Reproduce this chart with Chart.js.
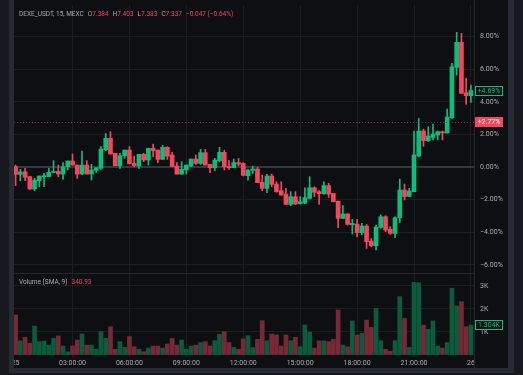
<!DOCTYPE html>
<html>
<head>
<meta charset="utf-8">
<script src="https://cdn.jsdelivr.net/npm/chart.js@4.4.1/dist/chart.umd.min.js"></script>
<style>
  html, body { margin: 0; padding: 0; background: #0e0f13; }
  #wrap { width: 523px; height: 375px; }
</style>
</head>
<body>
<div id="wrap"><canvas id="chart" width="523" height="375"></canvas></div>
<script>
// 15 min candles, 25th 00:00 -> 26th 00:00, in % change
const timeTicks = ['25', '03:00:00', '06:00:00', '09:00:00', '12:00:00', '15:00:00', '18:00:00', '21:00:00', '26'];
const priceTicks = [-6, -4, -2, 0, 2, 4, 6, 8];
const volumeTicks = [0, 1, 2, 3];

const openPct = [
  0.02, -0.45, -0.29, -0.59, -1.35, -0.84, -0.59, -0.59, -0.33, -0.27,
  -0.43, 0.02, 0.37, 0.12, -0.43, 0.12, -0.43, -0.20, -0.08, 1.06,
  1.76, 0.84, 0.08, 0.69, 1.04, 0.22, 0.06, 0.78, 0.43, 1.15,
  1.04, 0.47, 1.21, 0.74, 0.06, -0.43, -0.18, 0.06, 0.49, 0.22,
  0.88, 0.16, -0.04, 0.39, 0.90, 0.02, -0.04, 0.27, 0.22, -0.53,
  -0.20, -0.12, -0.94, -1.31, -0.55, -1.04, -1.45, -1.66, -2.29, -1.82,
  -2.25, -2.21, -1.92, -1.27, -1.51, -1.64, -1.14, -1.62, -2.09, -3.15,
  -2.88, -3.54, -3.50, -4.03, -3.62, -4.54, -4.83, -3.70, -3.05, -3.82,
  -4.07, -3.11, -1.41, -1.80, -1.51, 0.67, 2.21, 1.62, 1.82, 1.96,
  2.17, 2.09, 3.02, 6.11, 7.65, 4.56, 4.38
];
const highPct = [
  0.12, -0.14, -0.08, -0.57, -0.69, -0.55, -0.39, -0.08, 0.39, 0.12,
  0.27, 0.37, 0.80, 0.12, 0.98, 0.39, 0.16, -0.04, 1.25, 2.06,
  2.17, 0.84, 0.84, 1.04, 1.25, 0.67, 0.78, 0.84, 1.15, 1.41,
  1.04, 1.33, 1.25, 0.90, 0.27, 0.33, 0.12, 0.49, 0.74, 1.08,
  1.08, 0.16, 0.53, 1.21, 1.04, 0.39, 0.49, 0.53, 0.27, -0.15,
  0.06, -0.02, -0.49, -0.45, -0.43, -0.90, -0.90, -1.31, -1.51, -1.51,
  -1.82, -1.27, -0.59, -1.21, -1.45, -0.90, -1.00, -1.62, -2.09, -2.37,
  -2.86, -3.21, -3.21, -3.46, -3.52, -4.38, -3.56, -2.94, -2.99, -3.66,
  -3.05, -0.74, -1.04, -1.31, 2.20, 2.98, 2.33, 2.47, 2.64, 2.21,
  2.21, 3.56, 6.36, 8.26, 8.20, 5.44, 5.03
];
const lowPct = [
  -1.14, -0.84, -0.84, -1.37, -1.45, -1.21, -1.21, -0.59, -0.35, -0.59,
  -0.76, -0.18, 0.12, -0.69, -0.45, -0.43, -0.80, -0.33, -0.14, 1.00,
  0.80, 0.08, -0.08, 0.53, 0.20, 0.02, -0.08, 0.33, 0.12, 0.63,
  0.27, 0.47, 0.47, 0.02, -0.43, -0.45, -0.43, 0.02, 0.16, 0.16,
  0.12, -0.35, -0.22, 0.33, -0.18, -0.14, -0.04, 0.08, -0.55, -0.80,
  -0.39, -0.96, -1.45, -1.57, -1.21, -1.55, -1.72, -2.29, -2.37, -2.30,
  -2.27, -2.25, -1.96, -1.82, -2.29, -1.66, -1.86, -2.13, -3.72, -3.15,
  -3.56, -4.11, -4.29, -4.17, -4.99, -4.89, -5.09, -3.76, -3.97, -4.13,
  -4.34, -3.40, -2.02, -1.82, -1.51, 0.63, 1.27, 1.57, 1.66, 1.66,
  1.66, 2.09, 2.98, 5.64, 4.52, 3.85, 3.97
];
const closePct = [
  -0.45, -0.29, -0.63, -1.35, -0.80, -0.55, -0.53, -0.33, -0.27, -0.43,
  0.02, 0.37, 0.12, -0.43, 0.12, -0.43, -0.18, -0.04, 1.10, 1.76,
  0.80, 0.08, 0.69, 1.04, 0.20, 0.08, 0.78, 0.43, 1.15, 1.00,
  0.47, 1.21, 0.67, 0.02, -0.43, -0.14, 0.12, 0.49, 0.22, 0.88,
  0.12, -0.04, 0.43, 0.90, 0.02, -0.04, 0.27, 0.18, -0.51, -0.18,
  -0.12, -0.96, -1.31, -0.55, -1.06, -1.51, -1.72, -2.29, -1.82, -2.27,
  -2.13, -1.88, -1.27, -1.55, -1.64, -1.14, -1.66, -2.13, -3.15, -2.88,
  -3.52, -3.46, -4.03, -3.62, -4.58, -4.83, -3.68, -3.05, -3.87, -4.07,
  -3.11, -1.41, -1.82, -1.47, 0.74, 2.21, 1.62, 1.90, 2.02, 2.17,
  2.09, 3.07, 6.15, 7.65, 4.52, 4.38, 4.69
];
// volume in thousands
const volumeK = [
  1.74, 0.62, 0.77, 0.51, 1.26, 0.58, 0.61, 0.43, 0.72, 0.83,
  0.39, 0.14, 0.39, 0.65, 0.91, 0.43, 0.43, 0.25, 1.01, 0.72,
  1.23, 0.25, 0.58, 0.33, 0.80, 0.36, 0.25, 0.14, 0.30, 0.39,
  0.39, 0.30, 0.48, 0.72, 0.43, 0.65, 0.25, 0.39, 0.43, 0.54,
  0.58, 0.39, 0.62, 0.90, 1.01, 0.54, 0.33, 0.25, 0.70, 0.84,
  0.32, 0.68, 1.49, 0.62, 0.91, 0.87, 0.39, 0.87, 0.62, 0.77,
  0.36, 1.30, 0.99, 0.30, 0.61, 0.61, 0.58, 0.68, 1.96, 0.43,
  0.36, 1.48, 0.87, 0.94, 1.52, 1.20, 2.03, 0.62, 0.25, 0.16,
  0.62, 2.54, 1.59, 0.33, 3.16, 3.14, 1.30, 1.12, 1.48, 0.39,
  0.30, 0.54, 2.90, 2.13, 2.32, 1.23, 1.304
];
const refLevel = 2.77;
const headerParts = [
  ['DEXE_USDT, 15, MEXC', 'g'], ['O', 'g'], ['7.384', 'r'], ['H', 'g'], ['7.403', 'r'],
  ['L', 'g'], ['7.333', 'r'], ['C', 'g'], ['7.337', 'r'], ['\u22120.047 (\u22120.64%)', 'r']
];
const volumeLegend = ['Volume (SMA, 9)', '340.93'];

const UP = '#0dbd7b', DOWN = '#f4475c';
const VOL_UP = '#0c5b3d', VOL_DOWN = '#772a36';
const BG = '#0e0f13', GRID = '#1c1e24', TEXT = '#a9acb4';
const FONT = 'Roboto, "Noto Sans", sans-serif';

const idx = openPct.map((_, i) => i);
const up = idx.map(i => closePct[i] >= openPct[i]);

function fmtPct(v) {
  const s = Math.abs(v).toFixed(2) + '%';
  return v < 0 ? '\u2212' + s : s;
}

function noPad(s) {
  s.paddingTop = 0; s.paddingBottom = 0; s.paddingLeft = 0; s.paddingRight = 0;
}

function tagBox(ctx, x, y, text, fill, stroke, color) {
  ctx.font = '7px ' + FONT;
  const w = 28, h = 10;
  ctx.fillStyle = fill;
  ctx.fillRect(x, Math.round(y - h / 2), w, h);
  if (stroke) {
    ctx.strokeStyle = stroke;
    ctx.lineWidth = 1;
    ctx.strokeRect(x + 0.5, Math.round(y - h / 2) + 0.5, w - 1, h - 1);
  }
  ctx.fillStyle = color;
  ctx.textAlign = 'center';
  ctx.textBaseline = 'middle';
  ctx.fillText(text, x + w / 2, Math.round(y - h / 2) + h / 2 + 0.5);
}

const framePlugin = {
  id: 'frame',
  beforeDraw(chart) {
    const ctx = chart.ctx;
    ctx.save();
    ctx.fillStyle = BG;
    ctx.fillRect(0, 0, chart.width, chart.height);
    ctx.restore();
  },
  afterDatasetsDraw(chart) {
    const ctx = chart.ctx;
    const a = chart.chartArea;
    const y = chart.scales.y;
    const ry = Math.round(y.getPixelForValue(refLevel)) + 0.5;
    ctx.save();
    ctx.strokeStyle = '#7a2d38';
    ctx.setLineDash([1, 2]);
    ctx.lineWidth = 1;
    ctx.beginPath();
    ctx.moveTo(a.left, ry);
    ctx.lineTo(a.right, ry);
    ctx.stroke();
    ctx.restore();
  },
  afterDraw(chart) {
    const ctx = chart.ctx;
    const a = chart.chartArea;
    const y = chart.scales.y, yv = chart.scales.yv;
    ctx.save();
    // pane separators
    ctx.fillStyle = '#24272e';
    ctx.fillRect(a.left, Math.round(yv.top), a.right - a.left, 1);
    ctx.fillRect(a.right, 0, 1, 369);
    // clip tails of time labels
    ctx.fillStyle = BG;
    ctx.fillRect(a.right + 1, a.bottom + 1, 34, 11);
    // outer frame
    ctx.fillStyle = '#16181d';
    ctx.fillRect(0, 0, 9, 375);
    ctx.fillRect(514, 0, 9, 375);
    ctx.fillRect(0, 373, 523, 2);
    ctx.fillStyle = '#262a32';
    ctx.fillRect(9, 0, 5, 373);
    ctx.fillRect(508, 0, 6, 373);
    ctx.fillRect(9, 368, 505, 5);

    // header
    ctx.font = '6.5px ' + FONT;
    ctx.textBaseline = 'middle';
    ctx.textAlign = 'left';
    let x = 19;
    headerParts.forEach((p, i) => {
      ctx.fillStyle = p[1] === 'g' ? TEXT : DOWN;
      ctx.fillText(p[0], x, 14);
      const gap = (p[1] === 'g' && i > 0) ? 0 : 4;
      x += ctx.measureText(p[0]).width + gap;
    });
    ctx.fillStyle = TEXT;
    ctx.fillText(volumeLegend[0], 19, Math.round(yv.top) + 9);
    const vw = ctx.measureText(volumeLegend[0]).width;
    ctx.fillStyle = DOWN;
    ctx.fillText(volumeLegend[1], 19 + vw + 4, Math.round(yv.top) + 9);

    // price tags
    const last = closePct.length - 1;
    tagBox(ctx, a.right + 1, y.getPixelForValue(closePct[last]), '+' + closePct[last].toFixed(2) + '%', BG, UP, UP);
    tagBox(ctx, a.right + 1, y.getPixelForValue(refLevel), '+' + refLevel.toFixed(2) + '%', DOWN, null, '#ffffff');
    tagBox(ctx, a.right + 1, yv.getPixelForValue(volumeK[last]), volumeK[last].toFixed(3) + 'K', BG, UP, UP);
    ctx.restore();
  }
};

const ctx = document.getElementById('chart').getContext('2d');
new Chart(ctx, {
  type: 'bar',
  data: {
    datasets: [
      {
        label: 'body',
        data: idx.map(i => ({ x: i, y: [openPct[i], closePct[i]] })),
        backgroundColor: up.map(u => u ? UP : DOWN),
        barThickness: 4,
        minBarLength: 1,
        grouped: false,
        order: 1,
        yAxisID: 'y'
      },
      {
        label: 'wick',
        data: idx.map(i => ({ x: i, y: [lowPct[i], highPct[i]] })),
        backgroundColor: up.map(u => u ? UP : DOWN),
        barThickness: 1,
        grouped: false,
        order: 2,
        yAxisID: 'y'
      },
      {
        label: 'Volume',
        data: idx.map(i => ({ x: i, y: volumeK[i] })),
        backgroundColor: up.map(u => u ? VOL_UP : VOL_DOWN),
        barThickness: 4,
        grouped: false,
        order: 3,
        yAxisID: 'yv'
      }
    ]
  },
  options: {
    responsive: false,
    animation: false,
    devicePixelRatio: 1,
    layout: { padding: { left: 14, right: 0, top: 5, bottom: 5 } },
    plugins: { legend: { display: false }, tooltip: { enabled: false } },
    scales: {
      x: {
        type: 'linear',
        offset: false,
        min: -0.337,
        max: 96.65,
        afterBuildTicks: s => { s.ticks = timeTicks.map((t, i) => ({ value: i * 12 })); },
        afterFit: s => { s.height = 13; noPad(s); },
        ticks: {
          autoSkip: false,
          maxRotation: 0,
          padding: 2,
          color: TEXT,
          font: { size: 7, family: FONT },
          callback: v => timeTicks[v / 12]
        },
        grid: {
          offset: false,
          drawTicks: false,
          color: c => (c.tick && c.tick.value === 0) ? 'transparent' : GRID
        },
        border: { display: false }
      },
      y: {
        position: 'right',
        stack: 'panes',
        stackWeight: 268,
        min: -6.5,
        max: 9.94,
        afterBuildTicks: s => { s.ticks = priceTicks.map(v => ({ value: v })); },
        afterFit: s => { s.width = 49; noPad(s); },
        ticks: {
          padding: 6,
          color: TEXT,
          font: { size: 7, family: FONT },
          callback: v => fmtPct(v)
        },
        grid: {
          drawTicks: false,
          color: c => (c.tick && c.tick.value === 0) ? '#34373f' : GRID,
          lineWidth: c => (c.tick && c.tick.value === 0) ? 2 : 1
        },
        border: { display: false }
      },
      yv: {
        position: 'right',
        stack: 'panes',
        stackWeight: 84,
        min: -0.087,
        max: 3.565,
        afterBuildTicks: s => { s.ticks = volumeTicks.map(v => ({ value: v })); },
        afterFit: s => { s.width = 49; noPad(s); },
        ticks: {
          padding: 6,
          color: TEXT,
          font: { size: 7, family: FONT },
          callback: v => v === 0 ? '' : v + 'K'
        },
        grid: { drawTicks: false, color: GRID },
        border: { display: false }
      }
    }
  },
  plugins: [framePlugin]
});
</script>
</body>
</html>
